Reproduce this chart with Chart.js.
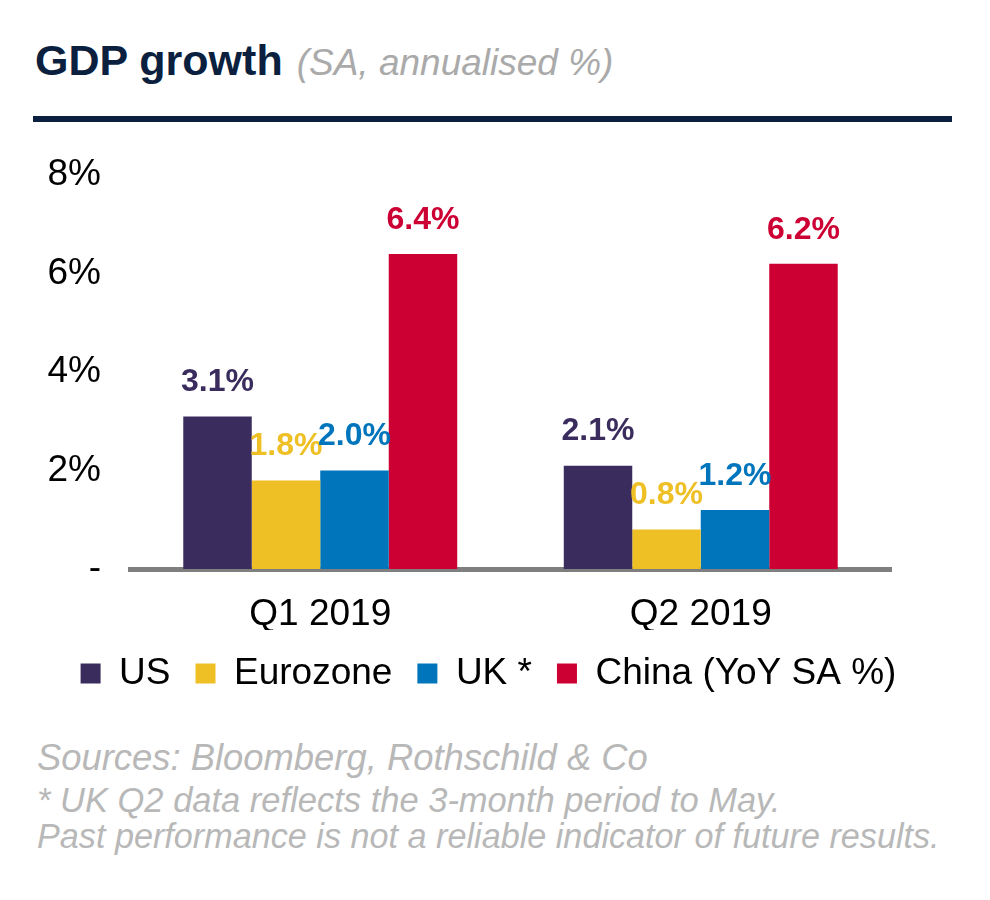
<!DOCTYPE html>
<html>
<head>
<meta charset="utf-8">
<script src="https://cdn.jsdelivr.net/npm/chart.js@4"></script>
<style>
  html,body{margin:0;padding:0;background:#fff;}
  body{width:990px;height:900px;position:relative;overflow:hidden;font-family:"Liberation Sans",Arial,sans-serif;}
  #title{position:absolute;left:35px;top:39px;white-space:nowrap;line-height:1;}
  #title .main{font-weight:bold;font-size:43px;color:#0b1f3f;}
  #title .sub{font-style:italic;font-size:37px;color:#aaaaaa;margin-left:14px;}
  #rule{position:absolute;left:33px;top:116px;width:919px;height:6px;background:#0b1f3f;}
  #wrap{position:absolute;left:0;top:132px;width:990px;height:578px;}
  .foot{position:absolute;left:37px;font-style:italic;color:#b8b8b8;white-space:nowrap;line-height:1;}
</style>
</head>
<body>
<div id="title"><span class="main">GDP growth</span><span class="sub">(SA, annualised %)</span></div>
<div id="rule"></div>
<div id="wrap"><canvas id="c" width="990" height="578"></canvas></div>
<div class="foot" style="top:740px;font-size:36.4px;">Sources: Bloomberg, Rothschild &amp; Co</div>
<div class="foot" style="top:783px;font-size:34.5px;">* UK Q2 data reflects the 3-month period to May.</div>
<div class="foot" style="top:819px;font-size:34.2px;">Past performance is not a reliable indicator of future results.</div>
<script>
const categories = ['Q1 2019', 'Q2 2019'];
const seriesNames = ['US', 'Eurozone', 'UK *', 'China (YoY SA %)'];
const usValues = [3.1, 2.1];
const eurozoneValues = [1.8, 0.8];
const ukValues = [2.0, 1.2];
const chinaValues = [6.4, 6.2];
const yTicks = [0, 2, 4, 6, 8];
const colors = ['#3b2c5e', '#efc026', '#0075bb', '#cc0033'];
const FONT = '"Liberation Sans", Arial, sans-serif';

const valueLabels = {
  id: 'valueLabels',
  afterDatasetsDraw(chart) {
    const ctx = chart.ctx;
    ctx.save();
    ctx.font = 'bold 32px ' + FONT;
    ctx.textAlign = 'center';
    ctx.textBaseline = 'middle';
    chart.data.datasets.forEach((ds, i) => {
      const meta = chart.getDatasetMeta(i);
      ctx.fillStyle = ds.backgroundColor;
      meta.data.forEach((el, j) => {
        ctx.fillText(ds.data[j].toFixed(1) + '%', el.x, el.y - 34);
      });
    });
    ctx.restore();
  }
};

const legendShift = {
  id: 'legendShift',
  afterLayout(chart) {
    const lg = chart.legend;
    if (lg) { lg.left += 42; lg.right += 42; }
  }
};

const allSeries = [usValues, eurozoneValues, ukValues, chinaValues];
new Chart(document.getElementById('c'), {
  type: 'bar',
  data: {
    labels: categories,
    datasets: allSeries.map((d, i) => ({
      label: seriesNames[i],
      data: d,
      backgroundColor: colors[i],
      borderWidth: 0,
      categoryPercentage: 0.72,
      barPercentage: 1.0
    }))
  },
  options: {
    responsive: false,
    animation: false,
    devicePixelRatio: 1,
    layout: { padding: { top: 9, right: 99, left: 2, bottom: 8 } },
    plugins: {
      tooltip: { enabled: false },
      legend: {
        position: 'bottom',
        labels: {
          boxWidth: 20,
          boxHeight: 20,
          padding: 25,
          color: '#000',
          font: { family: FONT, size: 37 }
        }
      }
    },
    scales: {
      x: {
        grid: { display: false },
        border: { display: true, color: '#7f7f7f', width: 5 },
        ticks: { color: '#000', padding: 16, font: { family: FONT, size: 37 } },
        afterFit(scale) { scale.height = 61; }
      },
      y: {
        min: 0, max: 8,
        afterBuildTicks(scale) { scale.ticks = yTicks.map(v => ({ value: v })); },
        grid: { display: false },
        border: { display: false },
        ticks: {
          color: '#000',
          padding: 21,
          font: { family: FONT, size: 37 },
          callback: v => v === 0 ? '-' : v + '%'
        },
        afterFit(scale) { scale.width = 128; }
      }
    }
  },
  plugins: [valueLabels, legendShift]
});
</script>
</body>
</html>
